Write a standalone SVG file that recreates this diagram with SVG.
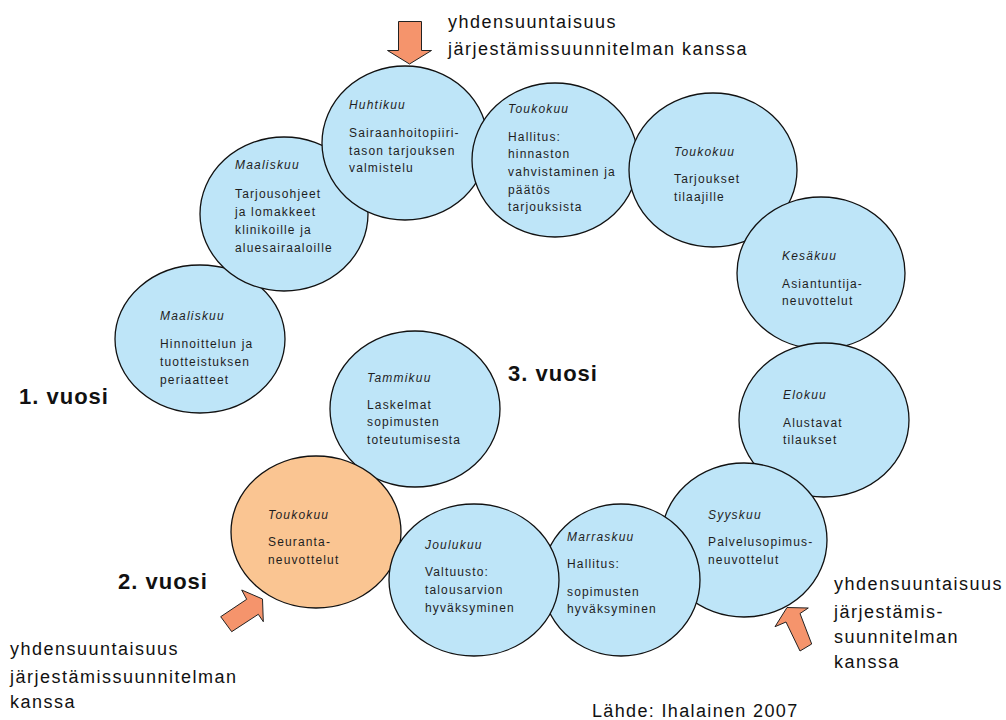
<svg xmlns="http://www.w3.org/2000/svg" width="1006" height="720" viewBox="0 0 1006 720">
<style>
.b{fill:#BEE5F8;stroke:#111;stroke-width:1.3}
.o{fill:#FAC592;stroke:#111;stroke-width:1.3}
.m{font-family:"Liberation Sans",Arial,sans-serif;font-size:12px;font-style:italic;letter-spacing:1.2px;fill:#1e1e1e}
.t{font-family:"Liberation Sans",Arial,sans-serif;font-size:12px;letter-spacing:1.15px;fill:#1e1e1e}
.y{font-family:"Liberation Sans",Arial,sans-serif;font-size:22px;font-weight:bold;letter-spacing:1px;fill:#111}
.n{font-family:"Liberation Sans",Arial,sans-serif;font-size:18px;letter-spacing:1.5px;fill:#111}
.ar{fill:#F5946C;stroke:#222;stroke-width:1}
</style>
<rect width="1006" height="720" fill="#fff"/>
<g id="n-maaliskuu1">
<ellipse class="b" cx="200" cy="339" rx="85" ry="74"/>
<text class="m" x="160" y="320">Maaliskuu</text>
<text class="t" x="160" y="348">Hinnoittelun ja</text>
<text class="t" x="160" y="366">tuotteistuksen</text>
<text class="t" x="160" y="384">periaatteet</text>
</g>
<g id="n-maaliskuu2">
<ellipse class="b" cx="284" cy="214" rx="84" ry="77"/>
<text class="m" x="235" y="169">Maaliskuu</text>
<text class="t" x="235" y="198">Tarjousohjeet</text>
<text class="t" x="235" y="216">ja lomakkeet</text>
<text class="t" x="235" y="234">klinikoille ja</text>
<text class="t" x="235" y="252">aluesairaaloille</text>
</g>
<g id="n-huhtikuu">
<ellipse class="b" cx="405" cy="143" rx="83" ry="77"/>
<text class="m" x="349" y="109">Huhtikuu</text>
<text class="t" x="349" y="137">Sairaanhoitopiiri-</text>
<text class="t" x="349" y="155">tason tarjouksen</text>
<text class="t" x="349" y="172">valmistelu</text>
</g>
<g id="n-toukokuu-hallitus">
<ellipse class="b" cx="555" cy="160" rx="83" ry="77"/>
<text class="m" x="508" y="113">Toukokuu</text>
<text class="t" x="508" y="141">Hallitus:</text>
<text class="t" x="508" y="158">hinnaston</text>
<text class="t" x="508" y="176">vahvistaminen ja</text>
<text class="t" x="508" y="194">päätös</text>
<text class="t" x="508" y="211">tarjouksista</text>
</g>
<g id="n-toukokuu-tarjoukset">
<ellipse class="b" cx="713" cy="170" rx="84" ry="77"/>
<text class="m" x="674" y="156">Toukokuu</text>
<text class="t" x="674" y="183">Tarjoukset</text>
<text class="t" x="674" y="201">tilaajille</text>
</g>
<g id="n-kesakuu">
<ellipse class="b" cx="821" cy="273" rx="84" ry="76"/>
<text class="m" x="782" y="260">Kesäkuu</text>
<text class="t" x="782" y="288">Asiantuntija-</text>
<text class="t" x="782" y="305">neuvottelut</text>
</g>
<g id="n-elokuu">
<ellipse class="b" cx="824" cy="420" rx="85" ry="77"/>
<text class="m" x="783" y="399">Elokuu</text>
<text class="t" x="783" y="427">Alustavat</text>
<text class="t" x="783" y="444">tilaukset</text>
</g>
<g id="n-syyskuu">
<ellipse class="b" cx="744" cy="540" rx="83" ry="77"/>
<text class="m" x="708" y="519">Syyskuu</text>
<text class="t" x="708" y="546">Palvelusopimus-</text>
<text class="t" x="708" y="564">neuvottelut</text>
</g>
<g id="n-marraskuu">
<ellipse class="b" cx="621" cy="580" rx="79" ry="76"/>
<text class="m" x="567" y="541">Marraskuu</text>
<text class="t" x="567" y="568">Hallitus:</text>
<text class="t" x="567" y="596">sopimusten</text>
<text class="t" x="567" y="613">hyväksyminen</text>
</g>
<g id="n-tammikuu">
<ellipse class="b" cx="415" cy="409" rx="85" ry="78"/>
<text class="m" x="367" y="382">Tammikuu</text>
<text class="t" x="367" y="409">Laskelmat</text>
<text class="t" x="367" y="426">sopimusten</text>
<text class="t" x="367" y="444">toteutumisesta</text>
</g>
<g id="n-toukokuu-seuranta">
<ellipse class="o" cx="316" cy="532" rx="85" ry="76"/>
<text class="m" x="268" y="519">Toukokuu</text>
<text class="t" x="268" y="546">Seuranta-</text>
<text class="t" x="268" y="564">neuvottelut</text>
</g>
<g id="n-joulukuu">
<ellipse class="b" cx="474" cy="580" rx="85" ry="76"/>
<text class="m" x="425" y="549">Joulukuu</text>
<text class="t" x="425" y="576">Valtuusto:</text>
<text class="t" x="425" y="594">talousarvion</text>
<text class="t" x="425" y="612">hyväksyminen</text>
</g>
<g id="connectors">
<polygon class="ar" points="398.5,21.5 421.5,21.5 421.5,50.5 431.5,50.5 409.5,64 387.5,50.5 398.5,50.5"/>
<polygon class="ar" points="241.7,590 262.5,599 263.3,621.7 258.3,614.3 231.7,631.7 220.7,616.7 246.7,599.3"/>
<polygon class="ar" points="787,607.5 808.3,608 800,613.5 811.7,644 800,651 786,622 775,626.7"/>
</g>
<g id="labels">
<text class="y" x="19" y="404">1. vuosi</text>
<text class="y" x="118" y="589">2. vuosi</text>
<text class="y" x="508" y="381">3. vuosi</text>
<text class="n" x="448" y="28">yhdensuuntaisuus</text>
<text class="n" x="448" y="55">järjestämissuunnitelman kanssa</text>
<text class="n" x="10" y="655">yhdensuuntaisuus</text>
<text class="n" x="10" y="683">järjestämissuunnitelman</text>
<text class="n" x="10" y="708">kanssa</text>
<text class="n" x="834" y="590">yhdensuuntaisuus</text>
<text class="n" x="834" y="618">järjestämis-</text>
<text class="n" x="834" y="643">suunnitelman</text>
<text class="n" x="834" y="668">kanssa</text>
<text class="n" x="592" y="717" style="letter-spacing:1.35px">Lähde: Ihalainen 2007</text>
</g>
</svg>
